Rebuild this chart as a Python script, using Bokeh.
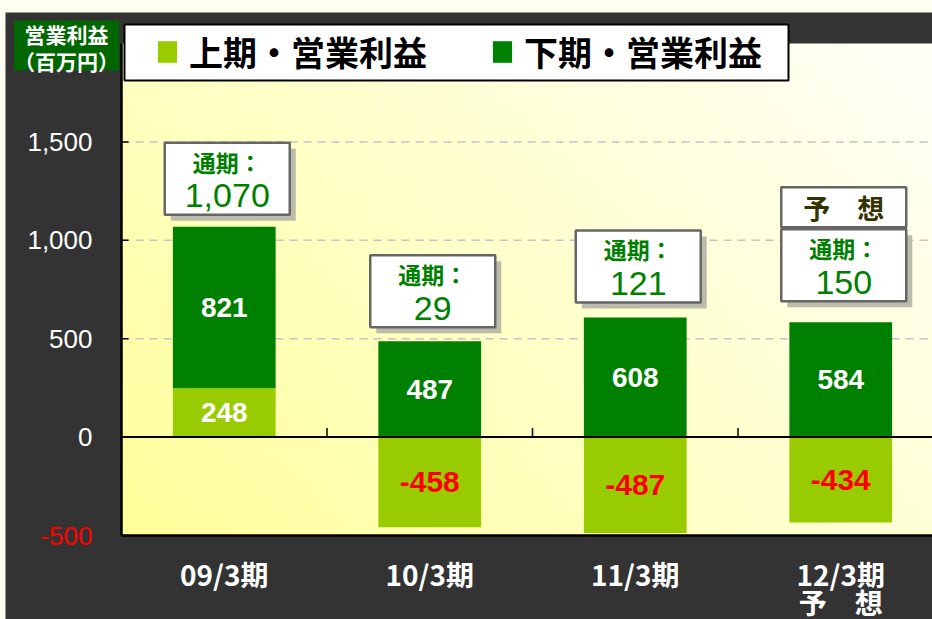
import numpy as np
from bokeh.plotting import figure
from bokeh.models import Range1d, Legend, LegendItem
from bokeh.core.properties import value
from bokeh.embed import file_html
from bokeh.resources import INLINE

# ---------------- data ----------------
categories = ["09/3期", "10/3期", "11/3期", "12/3期\n予　想"]
first_half = [248, -458, -487, -434]      # 上期・営業利益
second_half = [821, 487, 608, 584]        # 下期・営業利益
full_year = [1070, 29, 121, 150]          # 通期
forecast = [False, False, False, True]
y_ticks = [-500, 0, 500, 1000, 1500]
series_names = ["上期・営業利益", "下期・営業利益"]
y_title = "営業利益\n（百万円）"
box_title = "通期："
forecast_title = "予　想"

# ---------------- layout (pixels) ----------------
W, H = 932, 619
PL, PT, PB = 121, 43, 535          # plot-area left / top / bottom in px
CAT_PX = 205.5
y_lo, y_hi = -500, 2000
ppu = (PB - PT) / (y_hi - y_lo)    # px per data unit (y)
ppx = CAT_PX                       # px per category


def xpx(px):
    return (px - PL) / ppx


def ypx(py):
    return y_hi - (py - PT) / ppu


LIGHT = "#99cc00"
DARK = "#008000"
FRAME = "#333333"
CJK = "Noto Sans CJK JP"
LAT = "Liberation Sans"

x_end = xpx(W)
p = figure(width=W, height=H, x_range=Range1d(xpx(0), x_end), y_range=Range1d(ypx(H), ypx(0)),
           output_backend="svg", toolbar_location=None,
           x_axis_location=None, y_axis_location=None,
           min_border=0, min_border_left=0, min_border_right=0, min_border_top=0, min_border_bottom=0,
           border_fill_color="#fffff0", background_fill_color="#fffff0",
           outline_line_color=None)
p.grid.visible = False

# dark slide frame
p.quad(left=[xpx(5)], right=[x_end], top=[ypx(12)], bottom=[ypx(H)],
       fill_color=FRAME, line_color=None, level="image")

# gradient plot-area background
nx, ny = 64, 64
u = np.linspace(0, 1, nx)[None, :]
v = np.linspace(0, 1, ny)[:, None]
bch = 155 * (1 - u) * (1 - v) + 215 * u * (1 - v) + 195 * (1 - u) * v + 248 * u * v
img = np.empty((ny, nx), dtype=np.uint32)
view = img.view(dtype=np.uint8).reshape((ny, nx, 4))
view[..., 0] = 255
view[..., 1] = 255
view[..., 2] = bch.astype(np.uint8)
view[..., 3] = 255
p.image_rgba(image=[img], x=0, y=y_lo, dw=x_end, dh=y_hi - y_lo, level="image")

# dashed grid lines
gt = [t for t in y_ticks if t > 0]
p.segment(x0=[0] * len(gt), y0=gt, x1=[x_end] * len(gt), y1=gt,
          line_color="#c4c4c4", line_dash="8 6", line_width=1.5)

n = len(categories)
xs = [i + 0.5 for i in range(n)]
lb = [min(0, a) for a in first_half]
lt = [max(0, a) for a in first_half]
db = lt
dt = [lt[i] + second_half[i] for i in range(n)]

r1 = p.vbar(x=xs, bottom=lb, top=lt, width=0.5, fill_color=LIGHT, line_color=None)
r2 = p.vbar(x=xs, bottom=db, top=dt, width=0.5, fill_color=DARK, line_color=None)

# zero line, category ticks, plot-area border
p.segment(x0=[0], y0=[0], x1=[x_end], y1=[0], line_color="black", line_width=2)
bounds = list(range(1, n + 1))
p.segment(x0=bounds, y0=[0] * len(bounds), x1=bounds, y1=[9 / ppu] * len(bounds),
          line_color="black", line_width=1.5)
p.segment(x0=[0, 0], y0=[y_lo, y_lo], x1=[0, x_end], y1=[y_hi, y_lo],
          line_color="black", line_width=2.5)

# y axis ticks + labels
p.segment(x0=[0] * len(y_ticks), y0=y_ticks, x1=[7 / ppx] * len(y_ticks), y1=y_ticks,
          line_color="black", line_width=1.5)
p.text(x=[0] * len(y_ticks), y=y_ticks, text=[f"{t:,}" for t in y_ticks], x_offset=-29,
       text_color=["#ff0000" if t < 0 else "white" for t in y_ticks],
       text_font=value(LAT), text_font_size="26px", text_align="right", text_baseline="middle")

# x category labels
p.text(x=xs, y=[y_lo] * n, text=categories, y_offset=18, text_color="white",
       text_font=value(CJK), text_font_style="bold", text_font_size="28px",
       text_line_height=0.7, text_align="center", text_baseline="top")

# value labels
p.text(x=xs, y=[(lb[i] + lt[i]) / 2 for i in range(n)],
       text=[f"{a:,}" for a in first_half],
       text_color=["white" if a > 0 else "#ff0000" for a in first_half],
       text_font=value(LAT), text_font_style="bold",
       text_font_size=["28px" if a > 0 else "30px" for a in first_half],
       text_align="center", text_baseline="middle")
p.text(x=xs, y=[(db[i] + dt[i]) / 2 for i in range(n)],
       text=[f"{a:,}" for a in second_half], text_color="white",
       text_font=value(LAT), text_font_style="bold", text_font_size="28px",
       text_align="center", text_baseline="middle")

# callout boxes
box_w, box_h = 125, 72
gaps = [12, 14, 15, 21]
bx = [xs[i] + 3 / ppx for i in range(n)]
by = [dt[i] + (gaps[i] + box_h / 2) / ppu for i in range(n)]
p.rect(x=[b + 6 / ppx for b in bx], y=[b - 6 / ppu for b in by], width=box_w, height=box_h,
       width_units="screen", height_units="screen", fill_color="#bcbcac", line_color=None)
p.rect(x=bx, y=by, width=box_w, height=box_h, width_units="screen", height_units="screen",
       fill_color="white", line_color="#666666", line_width=2.5)
p.text(x=bx, y=by, text=[box_title] * n, y_offset=-17, text_color=DARK,
       text_font=value(CJK), text_font_style="bold", text_font_size="23px",
       text_align="center", text_baseline="middle")
p.text(x=bx, y=by, text=[f"{t:,}" for t in full_year], y_offset=17, text_color=DARK,
       text_font=value(LAT), text_font_size="34px",
       text_align="center", text_baseline="middle")

fi = [i for i in range(n) if forecast[i]]
fx = [bx[i] for i in fi]
fy = [by[i] + (box_h / 2 + 2 + 20) / ppu for i in fi]
p.rect(x=fx, y=fy, width=box_w, height=40, width_units="screen", height_units="screen",
       fill_color="white", line_color="#666666", line_width=2.5)
p.text(x=fx, y=fy, text=[forecast_title] * len(fi), text_color="#333300",
       text_font=value(CJK), text_font_style="bold", text_font_size="27px",
       text_align="center", text_baseline="middle")

# y title box
p.rect(x=[xpx(66)], y=[ypx(45)], width=105, height=50, width_units="screen",
       height_units="screen", fill_color="#006600", line_color=None)
p.text(x=[xpx(66)], y=[ypx(47)], text=[y_title], text_color="white",
       text_font=value(CJK), text_font_style="bold", text_font_size="21px",
       text_line_height=0.9, text_align="center", text_baseline="middle")

# legend box + legend
p.rect(x=[xpx(456)], y=[ypx(52)], width=664, height=56, width_units="screen",
       height_units="screen", fill_color="white", line_color="black", line_width=2)
legend = Legend(items=[LegendItem(label=series_names[0], renderers=[r1]),
                       LegendItem(label=series_names[1], renderers=[r2])],
                orientation="horizontal", location=(155, H - 76),
                border_line_color=None, background_fill_alpha=0,
                label_text_font=CJK, label_text_font_style="bold",
                label_text_font_size="34px", label_text_color="black",
                glyph_width=24, glyph_height=27, label_standoff=10, spacing=61,
                padding=0, margin=0, label_width=240)
p.add_layout(legend, "center")

html = file_html(p, INLINE)
html = html.replace("<body>", '<body style="background-color:#fffff0;">', 1)
open("out.html", "w").write(html)
